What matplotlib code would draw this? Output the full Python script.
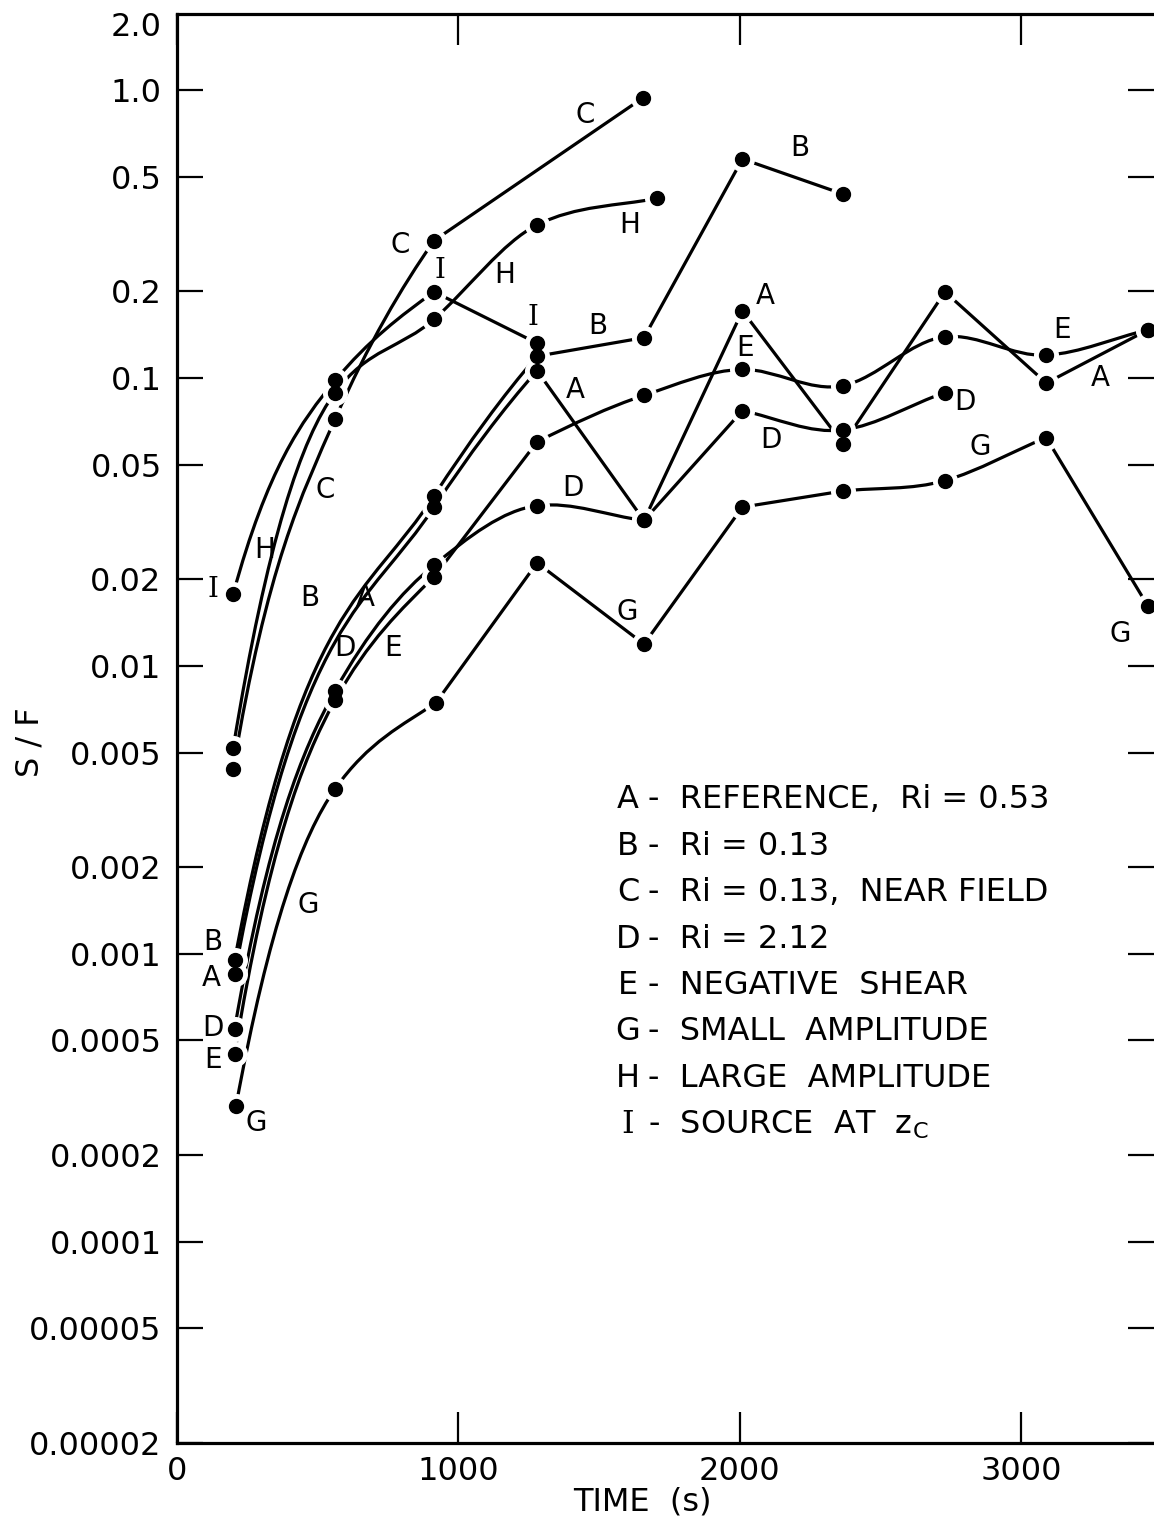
import numpy as np
import matplotlib
matplotlib.use('Agg')
import matplotlib.pyplot as plt
from matplotlib.path import Path
from matplotlib.patches import PathPatch

# time (s) and S/F, one pair of lists per run
t_A = [205, 914, 1280, 1660, 2010, 2368, 2730, 3090, 3452]
sf_A = [0.00085, 0.0356, 0.106, 0.032, 0.171, 0.059, 0.199, 0.096, 0.147]
t_B = [205, 914, 1280, 1660, 2010, 2368]
sf_B = [0.00095, 0.039, 0.119, 0.138, 0.576, 0.435]
t_C = [200, 562, 914, 1657]
sf_C = [0.0044, 0.072, 0.30, 0.94]
t_D = [205, 562, 914, 1280, 1660, 2010, 2368, 2730]
sf_D = [0.00055, 0.0082, 0.0224, 0.036, 0.032, 0.077, 0.066, 0.089]
t_E = [205, 562, 914, 1280, 1660, 2010, 2368, 2730, 3090, 3452]
sf_E = [0.00045, 0.0076, 0.0204, 0.060, 0.087, 0.107, 0.094, 0.139, 0.120, 0.147]
t_G = [210, 562, 920, 1280, 1660, 2010, 2368, 2730, 3090, 3452]
sf_G = [0.000297, 0.00374, 0.00744, 0.0228, 0.0119, 0.0356, 0.0405, 0.044, 0.062, 0.0161]
t_H = [200, 562, 914, 1280, 1705]
sf_H = [0.0052, 0.089, 0.16, 0.34, 0.42]
t_I = [200, 562, 914, 1280]
sf_I = [0.0178, 0.098, 0.199, 0.132]

# how each gap between points was drawn: s = french curve, l = ruler
kinds_A = "ssllllll"
kinds_B = "ssllll"
kinds_C = "ssl"
kinds_D = "sssslss"
kinds_E = "sslssssss"
kinds_G = "ssllllssl"
kinds_H = "ssss"
kinds_I = "ssl"

# letters written next to the curves
lab_text = ["C", "B", "C", "H", "I", "H", "A", "I", "B", "E", "E", "A", "A", "D", "D", "G",
            "C", "D", "H", "I", "B", "A", "G", "G", "D", "E", "G", "B", "A", "D", "E", "G"]
lab_t = [1450, 2215, 793, 1610, 935, 1166, 2090, 1266, 1497, 2019, 3146, 1415, 3281, 2801, 2112, 2855,
         526, 1408, 313, 128, 473, 668, 1600, 3352, 597, 768, 466, 128, 121, 128, 128, 281]
lab_sf = [0.819, 0.629, 0.290, 0.340, 0.237, 0.228, 0.193, 0.162, 0.152, 0.127, 0.147, 0.0908, 0.100,
          0.0826, 0.061, 0.0576, 0.0408, 0.0415, 0.0253, 0.0184, 0.0172, 0.0172, 0.0154, 0.0129,
          0.01155, 0.01155, 0.00148, 0.0011, 0.000826, 0.000553, 0.000428, 0.000259]

key_letters = ["A", "B", "C", "D", "E", "G", "H", "I"]
key_desc = ["-  REFERENCE,  Ri = 0.53",
            "-  Ri = 0.13",
            "-  Ri = 0.13,  NEAR FIELD",
            "-  Ri = 2.12",
            "-  NEGATIVE  SHEAR",
            "-  SMALL  AMPLITUDE",
            "-  LARGE  AMPLITUDE",
            r"-  SOURCE  AT  $\mathregular{z_C}$"]

ytick_vals = [1.0, 0.5, 0.2, 0.1, 0.05, 0.02, 0.01, 0.005, 0.002, 0.001,
              0.0005, 0.0002, 0.0001, 0.00005, 0.00002]
ytick_labels = ["1.0", "0.5", "0.2", "0.1", "0.05", "0.02", "0.01", "0.005", "0.002",
                "0.001", "0.0005", "0.0002", "0.0001", "0.00005", "0.00002"]
xtick_vals = [0, 1000, 2000, 3000]


def curve_path(t, v, kinds):
    # curved pieces: cubic bezier whose end slopes come from the log-log
    # neighbours (the hand-drawn curves look like power laws near t=0)
    t = np.array(t, float)
    y = np.log10(v)
    u = np.log10(t)
    n = len(t)
    verts = [(t[0], y[0])]
    codes = [Path.MOVETO]
    i = 0
    while i < n - 1:
        if kinds[i] == 'l':
            verts.append((t[i + 1], y[i + 1]))
            codes.append(Path.LINETO)
            i += 1
            continue
        j = i
        while j < n - 1 and kinds[j] == 's':
            j += 1
        uu, yy, tt = u[i:j + 1], y[i:j + 1], t[i:j + 1]
        h = np.diff(uu)
        dl = np.diff(yy) / h
        d = np.empty(len(uu))
        d[0], d[-1] = dl[0], dl[-1]
        for q in range(1, len(uu) - 1):
            d[q] = (h[q - 1] * dl[q] + h[q] * dl[q - 1]) / (h[q - 1] + h[q])
        s = d / (tt * np.log(10))
        for q in range(len(uu) - 1):
            ht = tt[q + 1] - tt[q]
            verts += [(tt[q] + ht / 3, yy[q] + s[q] * ht / 3),
                      (tt[q + 1] - ht / 3, yy[q + 1] - s[q + 1] * ht / 3),
                      (tt[q + 1], yy[q + 1])]
            codes += [Path.CURVE4] * 3
        i = j
    verts = np.array(verts)
    verts[:, 1] = 10 ** verts[:, 1]
    return Path(verts, codes)


def letter_font(s):
    # the draftsman's I has serifs
    return 'DejaVu Serif' if s == 'I' else 'DejaVu Sans'


plt.rcParams['font.family'] = 'DejaVu Sans'

W, H = 1154, 1522
fig = plt.figure(figsize=(W / 100, H / 100), dpi=100)
ax = fig.add_axes([177 / W, 79 / H, 1 - 177 / W, (1443 - 14) / H])

runs = [(t_A, sf_A, kinds_A), (t_B, sf_B, kinds_B), (t_C, sf_C, kinds_C), (t_D, sf_D, kinds_D),
        (t_E, sf_E, kinds_E), (t_G, sf_G, kinds_G), (t_H, sf_H, kinds_H), (t_I, sf_I, kinds_I)]

for t, v, kinds in runs:
    ax.add_patch(PathPatch(curve_path(t, v, kinds), fill=False, lw=2.3, ec='black',
                           capstyle='round', zorder=2))
for t, v, kinds in runs:
    ax.plot(t, v, 'o', ms=17, color='white', mec='white', zorder=3)
for t, v, kinds in runs:
    ax.plot(t, v, 'o', ms=10, color='black', zorder=4)

for s, x, y in zip(lab_text, lab_t, lab_sf):
    ax.text(x, y, s, fontsize=20, ha='center', va='center', zorder=5, family=letter_font(s))

ax.set_yscale('log')
ax.set_xlim(0, 3473)
ax.set_ylim(2e-5, 10 ** (76 / 287.9))
ax.set_yticks(ytick_vals)
ax.set_yticklabels(ytick_labels)
ax.minorticks_off()
ax.set_xticks(xtick_vals)
ax.set_xticklabels([str(x) for x in xtick_vals])

ax.spines['right'].set_visible(False)
for side in ['left', 'top', 'bottom']:
    ax.spines[side].set_linewidth(2.3)
ax.tick_params(axis='y', which='both', direction='in', left=True, right=True,
               length=19, width=1.6, labelsize=23, pad=11)
ax.tick_params(axis='x', which='both', direction='in', top=True, bottom=True,
               length=22, width=1.6, labelsize=23, pad=9)

fig.text(162 / W, 1 - 27 / H, "2.0", fontsize=23, ha='right', va='center')
fig.text(30 / W, 1 - 742 / H, "S / F", fontsize=23, rotation=90, ha='center', va='center')
fig.text(642 / W, 1 - 1502 / H, "TIME  (s)", fontsize=23, ha='center', va='center')

for k, (letter, desc) in enumerate(zip(key_letters, key_desc)):
    yk = 1 - (800 + 46.4 * k) / H
    fig.text(628 / W, yk, letter, fontsize=23, ha='center', va='center', family=letter_font(letter))
    fig.text(648 / W, yk, desc, fontsize=23, ha='left', va='center')

plt.savefig('out.png', dpi=100)
